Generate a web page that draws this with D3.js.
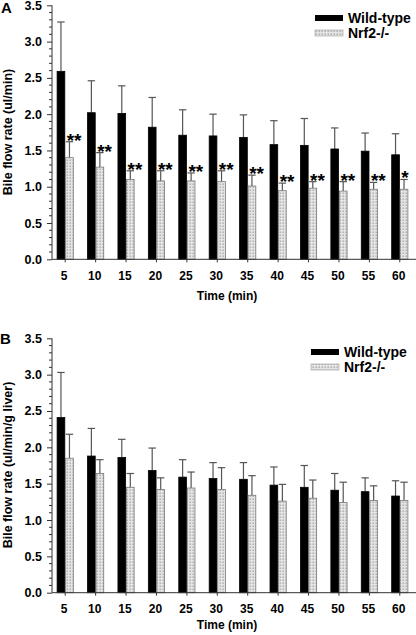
<!DOCTYPE html>
<html><head><meta charset="utf-8">
<script src="https://cdn.jsdelivr.net/npm/d3@7"></script>
<style>
html,body{margin:0;padding:0;background:#fff;}
svg{display:block;font-family:"Liberation Sans",Arial,sans-serif;}
</style></head>
<body>
<script>
const categories = [5,10,15,20,25,30,35,40,45,50,55,60];
const seriesNames = ["Wild-type","Nrf2-/-"];
const yTicks = [0,0.5,1,1.5,2,2.5,3,3.5];

// Panel A: Bile flow rate (ul/min)
const wtA    = [2.59,2.02,2.01,1.82,1.71,1.70,1.68,1.58,1.57,1.52,1.49,1.44];
const wtAsd  = [0.68,0.44,0.38,0.41,0.35,0.30,0.31,0.33,0.37,0.29,0.25,0.29];
const nrfA   = [1.40,1.27,1.10,1.08,1.08,1.07,1.01,0.945,0.98,0.94,0.965,0.965];
const nrfAsd = [0.22,0.20,0.12,0.14,0.11,0.15,0.15,0.105,0.09,0.13,0.095,0.135];
const sigA   = ["**","**","**","**","**","**","**","**","**","**","**","*"];

// Panel B: Bile flow rate (ul/min/g liver)
const wtB    = [2.41,1.88,1.86,1.68,1.59,1.57,1.56,1.48,1.45,1.41,1.39,1.33];
const wtBsd  = [0.62,0.38,0.25,0.31,0.24,0.22,0.23,0.25,0.30,0.23,0.19,0.21];
const nrfB   = [1.85,1.64,1.45,1.42,1.44,1.42,1.34,1.26,1.30,1.24,1.27,1.27];
const nrfBsd = [0.33,0.19,0.19,0.16,0.22,0.30,0.27,0.23,0.25,0.28,0.20,0.25];
const sigB   = ["","","","","","","","","","","",""];

const W = 416, H = 635;
const svg = d3.select("body").append("svg").attr("width", W).attr("height", H);

const defs = svg.append("defs");
const pat = defs.append("pattern").attr("id","dots").attr("patternUnits","userSpaceOnUse")
  .attr("width",3).attr("height",3);
pat.append("rect").attr("width",3).attr("height",3).attr("fill","#e4e4e4");
pat.append("rect").attr("x",0.5).attr("y",0.5).attr("width",1.4).attr("height",1.4).attr("fill","#a8a8a8");

function panel(opt){
  const g = svg.append("g");
  const x = d3.scaleBand().domain(categories).range([50, 415]).paddingInner(0).paddingOuter(0);
  const y = d3.scaleLinear().domain([0,3.5]).range([opt.y0, opt.y1]);
  const bw = 8.5;
  const axisColor = "#333";

  const series = [
    {vals: opt.wt, sd: opt.wtsd, off: -bw, fill:"#000", stroke:"#000"},
    {vals: opt.nrf, sd: opt.nrfsd, off: 0, fill:"url(#dots)", stroke:"#777"}
  ];
  series.forEach(s => {
    const cx = c => x(c) + x.bandwidth()/2 + s.off;
    g.selectAll(null).data(categories).enter().append("line")
      .attr("x1", (c)=>cx(c)+bw/2).attr("x2",(c)=>cx(c)+bw/2)
      .attr("y1",(c,i)=>y(s.vals[i])).attr("y2",(c,i)=>y(s.vals[i]+s.sd[i]))
      .attr("stroke","#555").attr("stroke-width",1.2);
    g.selectAll(null).data(categories).enter().append("line")
      .attr("x1", (c)=>cx(c)+bw/2-3.7).attr("x2",(c)=>cx(c)+bw/2+3.7)
      .attr("y1",(c,i)=>y(s.vals[i]+s.sd[i])).attr("y2",(c,i)=>y(s.vals[i]+s.sd[i]))
      .attr("stroke","#555").attr("stroke-width",1.2);
    g.selectAll(null).data(categories).enter().append("rect")
      .attr("x", c=>cx(c)+0.4).attr("width", bw-0.8)
      .attr("y",(c,i)=>y(s.vals[i])).attr("height",(c,i)=>y(0)-y(s.vals[i]))
      .attr("fill", s.fill).attr("stroke", s.stroke).attr("stroke-width",0.8);
  });

  // significance stars
  g.selectAll(null).data(categories).enter().append("text")
    .attr("x", c=>x(c)+x.bandwidth()/2 + 1.5)
    .attr("y",(c,i)=>y(opt.nrf[i]+opt.nrfsd[i]) + 5)
    .attr("font-size",19).attr("font-weight","bold")
    .text((c,i)=>opt.sig[i]);

  // y axis
  const yAxis = d3.axisLeft(y).tickValues(yTicks).tickFormat(d3.format(".1f")).tickSize(5).tickPadding(5);
  const ya = g.append("g").attr("transform","translate(52,0)").call(yAxis);
  ya.select(".domain").attr("stroke",axisColor).attr("d",`M0,${opt.y0}V${opt.y1}`);
  ya.selectAll(".tick line").attr("stroke",axisColor);
  ya.selectAll("text").attr("font-size",12.5).attr("font-weight","bold").attr("fill","#000")
    .attr("font-family","'Liberation Sans',Arial,sans-serif");
  const minor = d3.range(0,3.51,0.1).filter(v=>Math.abs(v*2-Math.round(v*2))>0.01);
  g.selectAll(null).data(minor).enter().append("line")
    .attr("x1",49).attr("x2",52).attr("y1",d=>y(d)).attr("y2",d=>y(d))
    .attr("stroke",axisColor).attr("stroke-width",1);

  // x axis
  const xAxis = d3.axisBottom(x).tickSize(3).tickPadding(9);
  const xa = g.append("g").attr("transform",`translate(0,${opt.y0})`).call(xAxis);
  xa.select(".domain").attr("stroke",axisColor).attr("d",`M52,0H416`);
  xa.selectAll(".tick line").attr("stroke",axisColor);
  xa.selectAll("text").attr("font-size",12).attr("font-weight","bold").attr("fill","#000")
    .attr("font-family","'Liberation Sans',Arial,sans-serif").attr("dx",-1);

  // axis titles
  g.append("text").attr("x",227).attr("y",opt.y0+opt.xlabOff).attr("text-anchor","middle")
    .attr("font-size",12).attr("font-weight","bold").text("Time (min)");
  g.append("text").attr("transform",`translate(12,${opt.ylabCenter}) rotate(-90)`)
    .attr("text-anchor","middle").attr("font-size",12.5).attr("font-weight","bold").text(opt.ylab);

  // panel letter
  g.append("text").attr("x",opt.letterX).attr("y",opt.letterY).attr("font-size",15).attr("font-weight","bold").text(opt.letter);

  // legend
  const lg = g.append("g");
  lg.append("rect").attr("x",opt.legX).attr("y",opt.legY-3).attr("width",28).attr("height",6).attr("fill","#000");
  lg.append("rect").attr("x",opt.legX).attr("y",opt.legY+12).attr("width",28).attr("height",6)
    .attr("fill","url(#dots)").attr("stroke","#999").attr("stroke-width",0.6);
  lg.append("text").attr("x",opt.legX+33).attr("y",opt.legY+5).attr("font-size",14).attr("font-weight","bold").text(seriesNames[0]);
  lg.append("text").attr("x",opt.legX+33).attr("y",opt.legY+20).attr("font-size",14).attr("font-weight","bold").text(seriesNames[1]);
}

panel({y0:259.3, y1:5.3, wt:wtA, wtsd:wtAsd, nrf:nrfA, nrfsd:nrfAsd, sig:sigA,
  ylab:"Bile flow rate (ul/min)", ylabCenter:132, letter:"A", letterX:1, letterY:13,
  legX:315, legY:18, xlabOff:41});
panel({y0:592.7, y1:338.3, wt:wtB, wtsd:wtBsd, nrf:nrfB, nrfsd:nrfBsd, sig:sigB,
  ylab:"Bile flow rate (ul/min/g liver)", ylabCenter:465, letter:"B", letterX:0, letterY:344,
  legX:311, legY:352, xlabOff:36});
</script>
</body></html>
